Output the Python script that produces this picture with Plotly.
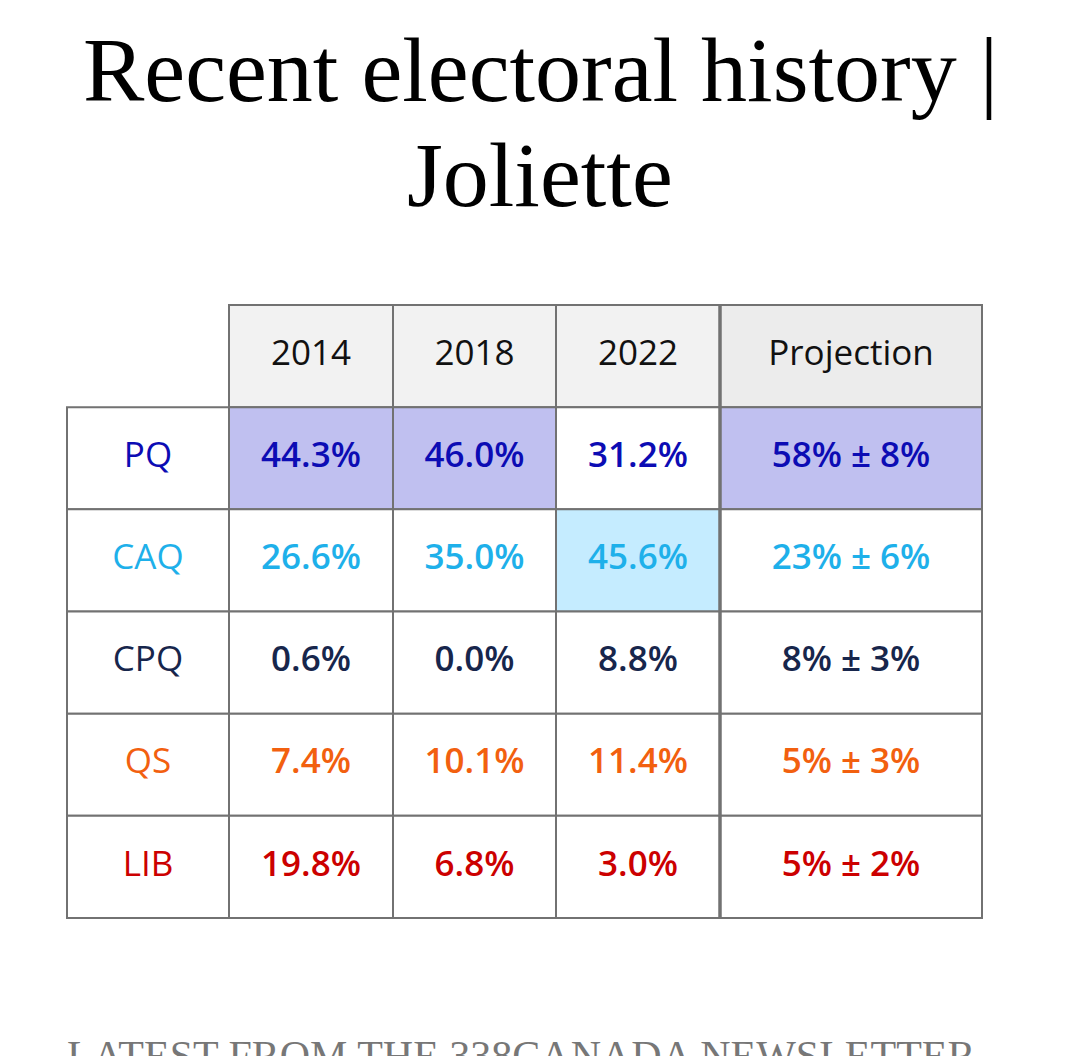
import plotly.graph_objects as go

# Results by party (%)
parties = ["PQ", "CAQ", "CPQ", "QS", "LIB"]
years = ["2014", "2018", "2022"]
res_2014 = [44.3, 26.6, 0.6, 7.4, 19.8]
res_2018 = [46.0, 35.0, 0.0, 10.1, 6.8]
res_2022 = [31.2, 45.6, 8.8, 11.4, 3.0]
proj_mid = [58, 23, 8, 5, 5]
proj_err = [8, 6, 3, 3, 2]

party_colors = {"PQ": "#0c0cb4", "CAQ": "#1eb0ea", "CPQ": "#17264c",
                "QS": "#f2600f", "LIB": "#cc0000"}
party_fills = {"PQ": "#c0c0f0", "CAQ": "#c5ecff"}

# layout of the grid (pixels)
W, H = 1080, 1056
col_w = [162, 164, 163, 164, 262]
PAD_X, PAD_Y = 3, 0.03
plot_left, plot_right = 56, 56 + sum(col_w) + 2 * PAD_X
plot_top, plot_bot = 294, 913
BORDER = "#727272"

edges = [0]
for w in col_w:
    edges.append(edges[-1] + w)
centers = [(a + b) / 2 for a, b in zip(edges[:-1], edges[1:])]


def px_x(p):
    return (p - plot_left) / (plot_right - plot_left)


def px_y(p):
    return (plot_bot - p) / (plot_bot - plot_top)


# cell texts and fills
vals_cols = [res_2014, res_2018, res_2022, proj_mid]
col_text = [[f"{v:.1f}%" for v in c] for c in (res_2014, res_2018, res_2022)]
col_text.append([f"{m}% ± {e}%" for m, e in zip(proj_mid, proj_err)])

fills = []
for vals in vals_cols:
    best = vals.index(max(vals))
    fills.append([party_fills.get(p, "#eeeeee") if i == best else "white"
                  for i, p in enumerate(parties)])

head_fill = ["#f2f2f2", "#f2f2f2", "#f2f2f2", "#ececec"]

fig = go.Figure()

shapes = []
# header row
for j in range(1, len(col_w)):
    shapes.append(dict(type="rect", xref="x", yref="y",
                       x0=edges[j], x1=edges[j + 1], y0=0, y1=1,
                       fillcolor=head_fill[j - 1], line=dict(color=BORDER, width=2),
                       layer="below"))
# party rows
for i, p in enumerate(parties):
    for j in range(len(col_w)):
        fc = "white" if j == 0 else fills[j - 1][i]
        shapes.append(dict(type="rect", xref="x", yref="y",
                           x0=edges[j], x1=edges[j + 1], y0=i + 1, y1=i + 2,
                           fillcolor=fc, line=dict(color=BORDER, width=2),
                           layer="below"))
# heavier rule before the projection column
shapes.append(dict(type="line", xref="x", yref="y",
                   x0=edges[4], x1=edges[4], y0=0, y1=len(parties) + 1,
                   line=dict(color=BORDER, width=3.5)))

# header labels
fig.add_trace(go.Scatter(
    x=centers[1:], y=[0.5] * 4, mode="text",
    text=years + ["Projection"],
    textfont=dict(family="Open Sans", size=35, color="#111111"),
    hoverinfo="skip", cliponaxis=False,
))

# party labels
rows = [i + 1.5 for i in range(len(parties))]
fig.add_trace(go.Scatter(
    x=[centers[0]] * len(parties), y=rows, mode="text", text=parties,
    textfont=dict(family="Open Sans", size=35,
                  color=[party_colors[p] for p in parties]),
    hoverinfo="skip", cliponaxis=False,
))

# values
for j, texts in enumerate(col_text):
    fig.add_trace(go.Scatter(
        x=[centers[j + 1]] * len(parties), y=rows, mode="text", text=texts,
        textfont=dict(family="Open Sans", size=35, weight=600,
                      color=[party_colors[p] for p in parties]),
        hoverinfo="skip", cliponaxis=False,
    ))

# title
fig.add_annotation(
    text="Recent electoral history |", x=px_x(532), y=px_y(62),
    xref="paper", yref="paper", xanchor="center", yanchor="middle",
    showarrow=False, font=dict(family="Liberation Serif", size=92, color="black"),
)
fig.add_annotation(
    text="Joliette", x=px_x(532), y=px_y(167),
    xref="paper", yref="paper", xanchor="center", yanchor="middle",
    showarrow=False, font=dict(family="Liberation Serif", size=92, color="black"),
)

# newsletter heading at the bottom edge
fig.add_annotation(
    text="LATEST FROM THE 338CANADA NEWSLETTER", x=px_x(57), y=px_y(1048),
    xref="paper", yref="paper", xanchor="left", yanchor="middle",
    showarrow=False, font=dict(family="Liberation Serif", size=42, color="#777777"),
)

fig.update_layout(
    width=W, height=H,
    margin=dict(l=plot_left, r=W - plot_right, t=plot_top, b=H - plot_bot),
    paper_bgcolor="white", plot_bgcolor="white",
    showlegend=False,
    shapes=shapes,
    xaxis=dict(range=[-PAD_X, sum(col_w) + PAD_X], visible=False, fixedrange=True),
    yaxis=dict(range=[len(parties) + 1 + PAD_Y, -PAD_Y], visible=False, fixedrange=True),
)

fig.write_html("out.html")
